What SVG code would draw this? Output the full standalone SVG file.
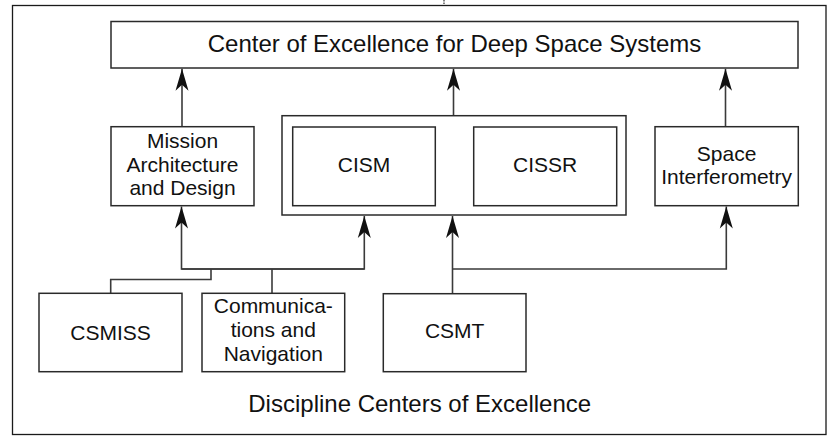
<svg xmlns="http://www.w3.org/2000/svg" width="829" height="436" viewBox="0 0 829 436">
<defs>
<style>
.box{fill:#fff;stroke:#2a2a2a;stroke-width:1.5}
.frame{fill:none;stroke:#1a1a1a;stroke-width:1.3}
.con{fill:none;stroke:#3a3a3a;stroke-width:1.6}
.t{font-family:"Liberation Sans",Arial,Helvetica,sans-serif;font-size:21px;fill:#111;text-anchor:middle}
.big{font-size:24px}
</style>
<marker id="arr" viewBox="-23 -7 24 14" markerWidth="24" markerHeight="14" refX="0" refY="0" orient="auto" markerUnits="userSpaceOnUse">
<path d="M0,0 L-22,-6.5 L-16,0 L-22,6.5 Z" fill="#111"/>
</marker>
</defs>
<rect fill="#fff" x="0" y="0" width="829" height="436"/>
<rect class="frame" x="12.5" y="5.5" width="813.5" height="429"/>
<line x1="444" y1="0" x2="444" y2="5" stroke="#333" stroke-width="1.2" stroke-dasharray="1.5,1"/>

<g id="connectors">
<path class="con" d="M182,126.7 V68.8" marker-end="url(#arr)"/>
<path class="con" d="M453.5,115.7 V68.8" marker-end="url(#arr)"/>
<path class="con" d="M725.5,126.7 V68.8" marker-end="url(#arr)"/>
<path class="con" d="M364.3,269 H181.5 V206.5" marker-end="url(#arr)"/>
<path class="con" d="M181.5,269 H364.3 V216" marker-end="url(#arr)"/>
<path class="con" d="M110.7,293.3 V279.5 H211 V269"/>
<path class="con" d="M272,293.3 V269"/>
<path class="con" d="M452.5,293.7 V216" marker-end="url(#arr)"/>
<path class="con" d="M452.5,269 H726.3 V206.5" marker-end="url(#arr)"/>
</g>

<g id="deep-space">
<rect class="box" x="111" y="21.5" width="687" height="46.5"/>
<text class="t big" x="454.5" y="52">Center of Excellence for Deep Space Systems</text>
</g>

<g id="mission">
<rect class="box" x="111" y="126.7" width="143" height="79"/>
<text class="t" x="182.5" y="148.3">Mission</text>
<text class="t" x="182.5" y="171.7">Architecture</text>
<text class="t" x="182.5" y="195.3">and Design</text>
</g>

<g id="cis-group">
<rect class="box" x="282" y="115.7" width="344" height="99.3"/>
</g>

<g id="cism">
<rect class="box" x="292.7" y="127" width="142.6" height="78.7"/>
<text class="t" x="364" y="171.7">CISM</text>
</g>

<g id="cissr">
<rect class="box" x="473.7" y="127" width="143" height="78.7"/>
<text class="t" x="545.2" y="171.7">CISSR</text>
</g>

<g id="space-interferometry">
<rect class="box" x="655" y="126.7" width="143.3" height="79"/>
<text class="t" x="726.6" y="160.7">Space</text>
<text class="t" x="726.6" y="184.3">Interferometry</text>
</g>

<g id="csmiss">
<rect class="box" x="39" y="293.3" width="143" height="78.4"/>
<text class="t" x="110.5" y="340">CSMISS</text>
</g>

<g id="comm-nav">
<rect class="box" x="202" y="293.3" width="142.7" height="78.4"/>
<text class="t" x="273.3" y="312.7">Communica-</text>
<text class="t" x="273.3" y="336.7">tions and</text>
<text class="t" x="273.3" y="361">Navigation</text>
</g>

<g id="csmt">
<rect class="box" x="383.3" y="293.7" width="142.7" height="78"/>
<text class="t" x="454.7" y="338.3">CSMT</text>
</g>

<text class="t big" x="419.7" y="411.7">Discipline Centers of Excellence</text>
</svg>
